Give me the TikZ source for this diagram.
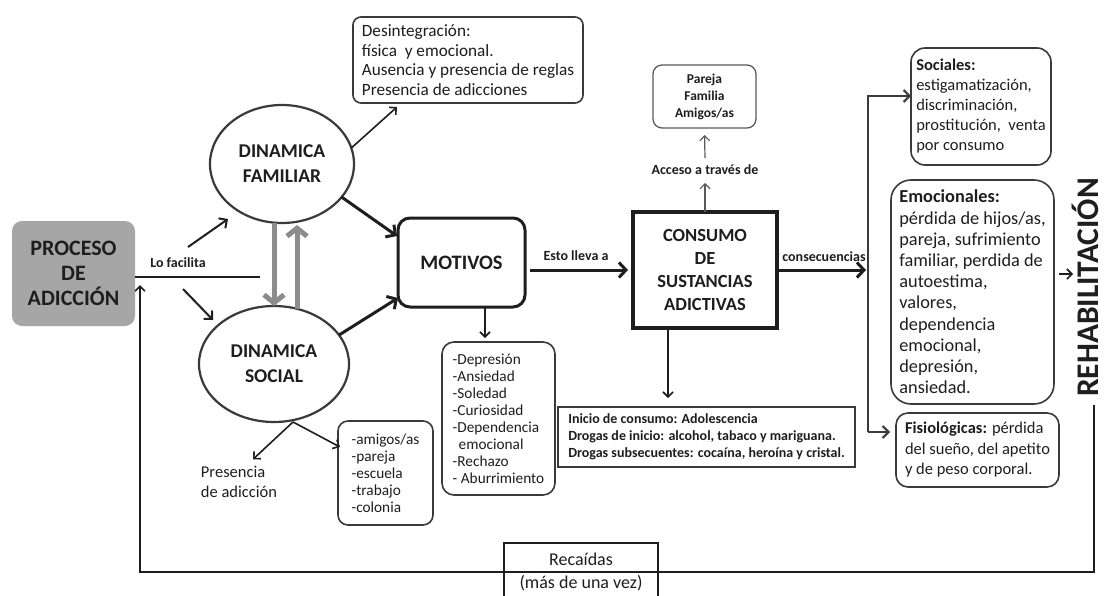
\documentclass[tikz,border=0pt]{standalone}
\usepackage{fontspec}
\setmainfont{Carlito}
\usetikzlibrary{arrows.meta,shapes.geometric,calc}
\definecolor{ink}{HTML}{1E1E1E}
\definecolor{edge}{HTML}{3A3A3A}
\definecolor{boxgray}{HTML}{A6A6A6}
\definecolor{arrgray}{HTML}{8C8C8C}
\definecolor{thingray}{HTML}{5A5A5A}
\newcommand\myfs[2]{\fontsize{#1}{#2}\selectfont}
\begin{document}
\begin{tikzpicture}[x=1pt,y=-1pt,
  every node/.style={text=ink, inner sep=0pt, outer sep=0pt},
  rbox/.style={draw=edge, line width=1.6pt, rounded corners=10pt, align=left},
  ell/.style={ellipse, draw=edge, line width=2.2pt, align=center, font=\bfseries\myfs{19.5}{25}},
  lbl/.style={font=\bfseries\myfs{14}{16}},
  arr/.style={draw=ink, line width=1.6pt, -{Straight Barb[length=5pt,width=10pt]}},
  arrm/.style={draw=ink, line width=2pt, -{Straight Barb[length=6pt,width=12pt]}},
  marr/.style={draw=edge, line width=2pt, -{Straight Barb[length=6pt,width=12pt]}},
  tarr/.style={draw=ink, line width=3pt, -{Straight Barb[length=7pt,width=15pt]}},
  garr/.style={draw=arrgray, line width=5pt, -{Straight Barb[length=8pt,width=20pt]}},
  sarr/.style={draw=thingray, line width=1.2pt, -{Straight Barb[length=5pt,width=10pt]}}
]
\useasboundingbox (0,0) rectangle (1106,595);
\fill[white] (0,0) rectangle (1106,595);

% nodes
\node[fill=boxgray, rounded corners=10pt, minimum width=123pt, minimum height=105pt,
  align=center, font=\bfseries\myfs{22}{25}] (proc) at (73.5,273.5) {PROCESO\\DE\\ADICCIÓN};
\node[ell, minimum width=144pt, minimum height=118pt] (fam) at (282,164) {DINAMICA\\FAMILIAR};
\node[ell, minimum width=150pt, minimum height=116pt] (soc) at (274,364) {DINAMICA\\SOCIAL};
\node[rbox, rounded corners=8pt, minimum width=230pt, minimum height=86pt, font=\myfs{17.2}{19.5}]
  (des) at (468,60) {Desintegración:\\física\ \ y emocional.\\Ausencia y presencia de reglas\\Presencia de adicciones};
\node[draw=ink, line width=3pt, rounded corners=12pt, minimum width=127pt, minimum height=89pt,
  font=\bfseries\myfs{20.5}{24}] (mot) at (461.5,262.5) {MOTIVOS};
\node[draw=ink, line width=4pt, minimum width=144pt, minimum height=116pt, align=center,
  font=\bfseries\myfs{18.5}{23}] (con) at (705,270) {CONSUMO\\DE\\SUSTANCIAS\\ADICTIVAS};
\node[draw=thingray, line width=1.3pt, rounded corners=9pt, minimum width=103pt, minimum height=63pt,
  align=center, font=\bfseries\myfs{13.5}{17}] (par) at (704.5,96.5) {Pareja\\Familia\\Amigos/as};
\node[lbl, minimum height=20pt] (acc) at (705,170) {Acceso a través de};
\node[lbl] (lof) at (178,263) {Lo facilita};
\node[lbl] (est) at (576,256) {Esto lleva a};
\node[lbl] (cns) at (824,257) {consecuencias};
\node[rbox, rounded corners=12pt, minimum width=113pt, minimum height=153pt, font=\myfs{15.3}{17}]
  (dep) at (498.5,418.5) {-Depresión\\-Ansiedad\\-Soledad\\-Curiosidad\\-Dependencia\\\hspace*{6pt}emocional\\-Rechazo\\- Aburrimiento};
\node[draw=edge, line width=1.4pt, minimum width=297pt, minimum height=60pt, align=left,
  font=\bfseries\myfs{14}{17}] (ini) at (706.5,437)
  {Inicio de consumo: Adolescencia\\Drogas de inicio: alcohol, tabaco y mariguana.\\Drogas subsecuentes: cocaína, heroína y cristal.};
\node[rbox, rounded corners=10pt, minimum width=95pt, minimum height=104pt, font=\myfs{15.3}{17}]
  (ami) at (385.5,473) {-amigos/as\\-pareja\\-escuela\\-trabajo\\-colonia};
\node[align=left, font=\myfs{16.5}{20}] (pres) at (239,482) {Presencia\\de adicción};
\node[rbox, rounded corners=14pt, minimum width=140pt, minimum height=117pt, font=\myfs{16.5}{20}]
  (sociales) at (981,106.5) {\textbf{Sociales:}\\estigamatización,\\discriminación,\\prostitución,\ \ venta\\por consumo};
\node[rbox, rounded corners=20pt, minimum width=163pt, minimum height=224pt, font=\myfs{18.3}{21.2}]
  (emo) at (972.5,292) {\textbf{Emocionales:}\\pérdida de hijos/as,\\pareja, sufrimiento\\familiar, perdida de\\autoestima,\\valores,\\dependencia\\emocional,\\depresión,\\ansiedad.};
\node[rbox, rounded corners=12pt, minimum width=163pt, minimum height=74pt, font=\myfs{16.5}{20.5}]
  (fis) at (977.5,450) {\textbf{Fisiológicas:} pérdida\\del sueño, del apetito\\y de peso corporal.};
\node[rotate=90, anchor=base, font=\bfseries\myfs{31.5}{32}] (rehab) at (1098,287.5) {REHABILITACIÓN};
\node[draw=ink, line width=2.5pt, minimum width=154pt, minimum height=57pt, align=center,
  font=\myfs{18}{23}] (rec) at (581,571.5) {Recaídas\\(más de una vez)};

% connectors
\coordinate (lfe) at (260,277);
\draw[draw=ink, line width=1.6pt] (proc.east |- lfe) -- (lfe);
\coordinate (fa1s) at (188,247); \coordinate (fa1e) at (228,219);
\draw[arrm] (fa1s) -- (fa1e);
\coordinate (fa2s) at (183,289); \coordinate (fa2e) at (213,320);
\draw[arrm] (fa2s) -- (fa2e);

\draw[garr] ($(fam.south)+(-8,0)$) -- (soc.north);
\draw[garr] ($(soc.north)+(23,3)$) -- ($(fam.south)+(15,2)$);

\draw[tarr] (fam.-29) -- ($(mot.west)+(-1,-26.5)$);
\draw[tarr] (soc.24.5) -- ($(mot.west)+(0,35.5)$);
\draw[arr] (fam.13.5) -- ($(des.south west)+(44,4)$);

\coordinate (apex) at ($(soc.south)+(19,0)$);
\draw[arr] (apex) -- ($(pres.north)+(14,-7)$);
\draw[arr] (apex) -- ($(ami.west)+(2,-26)$);

\draw[arr] ($(mot.south)+(23.5,0)$) -- ($(dep.north)+(-13.5,-4)$);
\draw[tarr] ($(mot.east|-con.west)+(5,0)$) -- ($(con.west)+(-5,0)$);
\draw[arr] ($(con.south)+(-37,0)$) -- ($(ini.north)+(-38.5,-9)$);

\draw[sarr, shorten >=3pt] (con.north) -- (acc.south);
\draw[sarr, shorten <=2pt, shorten >=7pt] (acc.north) -- (par.south);

\coordinate (vt) at (868,96); \coordinate (vb) at (868,432);
\draw[tarr, shorten >=2pt] (con.east) -- (con.east -| vt);
\draw[marr] (vb) -- (vt) -- ($(sociales.west)+(0,-10.5)$);
\draw[marr] (vb) -- ($(fis.west)+(-6,-18)$);

\coordinate (rha) at (1073,274);
\draw[arr] ($(emo.east)+(5,-18)$) -- (rha);

\coordinate (lb) at (140,572);
\draw[arr] ($(rehab.base west)+(-4,8)$) |- (lb) -- ($(proc.east)+(5,11.5)$);
\end{tikzpicture}
\end{document}
